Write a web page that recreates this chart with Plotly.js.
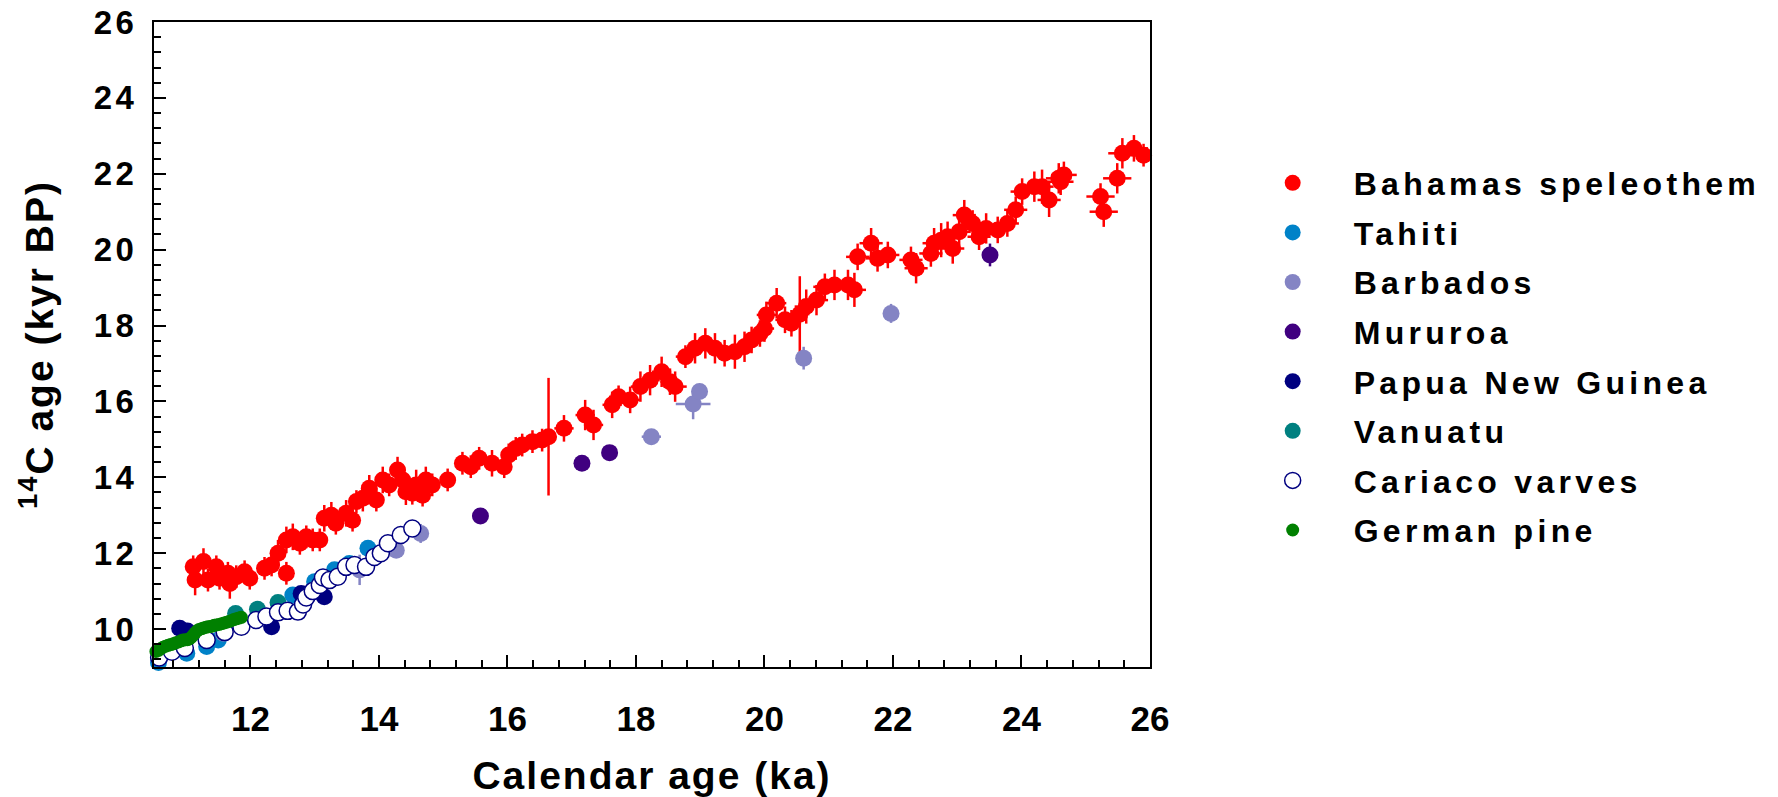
<!DOCTYPE html>
<html>
<head>
<meta charset="utf-8">
<script src="https://cdn.plot.ly/plotly-3.0.1.min.js"></script>
<style>
  html, body { margin: 0; padding: 0; background: #fff; }
  #chart { width: 1778px; height: 797px; }
  .legendtext { letter-spacing: 4.3px; }
  g.ytick text, text.ytick { letter-spacing: 3.5px; }
  .xtitle, .ytitle { letter-spacing: 2px; }
</style>
</head>
<body>
<div id="chart"></div>
<script>
// ---------------- DATA ----------------
// Bahamas speleothem: calendar age (ka), 14C age (kyr BP), errors
const bahamasX = [11.11,11.14,11.27,11.34,11.47,11.52,11.65,11.68,11.78,11.91,11.99,12.22,12.33,12.43,12.56,12.56,12.66,12.77,12.87,12.97,13.08,13.15,13.26,13.33,13.49,13.59,13.65,13.75,13.85,13.96,14.06,14.16,14.29,14.37,14.42,14.52,14.58,14.68,14.73,14.83,15.07,15.30,15.43,15.56,15.76,15.95,16.02,16.13,16.23,16.39,16.54,16.64,16.88,17.21,17.34,17.63,17.73,17.91,18.07,18.22,18.40,18.53,18.61,18.77,18.92,19.08,19.23,19.38,19.54,19.69,19.80,19.93,20.00,20.03,20.19,20.32,20.42,20.55,20.65,20.81,20.94,21.09,21.30,21.40,21.45,21.66,21.76,21.92,22.28,22.36,22.59,22.64,22.75,22.85,22.93,23.03,23.11,23.24,23.34,23.45,23.63,23.78,23.91,24.01,24.20,24.32,24.43,24.58,24.61,24.66,25.23,25.28,25.49,25.57,25.75,25.90];
const bahamasY = [11.64,11.29,11.78,11.29,11.64,11.34,11.47,11.20,11.38,11.51,11.34,11.60,11.69,12.00,11.47,12.35,12.43,12.26,12.43,12.35,12.35,12.92,13.00,12.79,13.05,12.87,13.36,13.45,13.71,13.40,13.93,13.80,14.19,13.93,13.62,13.58,13.80,13.53,13.93,13.80,13.93,14.37,14.28,14.50,14.37,14.28,14.59,14.76,14.85,14.94,14.98,15.07,15.29,15.64,15.38,15.91,16.12,16.04,16.39,16.56,16.78,16.52,16.39,17.18,17.40,17.53,17.40,17.27,17.31,17.44,17.62,17.79,17.92,18.28,18.59,18.15,18.06,18.30,18.50,18.67,19.02,19.07,19.07,18.94,19.81,20.17,19.77,19.86,19.73,19.51,19.90,20.17,20.25,20.34,20.03,20.47,20.91,20.69,20.34,20.56,20.52,20.69,21.05,21.53,21.66,21.66,21.31,21.88,21.79,21.97,21.40,21.00,21.88,22.54,22.67,22.49];
const bahamasErrY = [0.30,0.40,0.35,0.30,0.30,0.30,0.30,0.40,0.30,0.30,0.30,0.30,0.30,0.35,0.30,0.35,0.35,0.30,0.30,0.30,0.30,0.35,0.35,0.30,0.35,0.30,0.30,0.35,0.35,0.30,0.35,0.30,0.35,0.30,0.35,0.30,0.40,0.30,0.35,0.30,0.30,0.30,0.30,0.30,0.35,0.30,0.30,0.30,0.30,0.30,0.30,1.55,0.35,0.40,0.40,0.35,0.30,0.35,0.40,0.40,0.40,0.35,0.40,0.30,0.40,0.40,0.40,0.35,0.45,0.40,0.35,0.35,0.35,0.35,0.40,0.35,0.35,1.00,0.45,0.40,0.35,0.40,0.40,0.45,0.35,0.40,0.35,0.35,0.35,0.40,0.35,0.40,0.45,0.40,0.40,0.35,0.40,0.35,0.35,0.40,0.35,0.35,0.35,0.35,0.40,0.45,0.45,0.40,0.35,0.35,0.35,0.40,0.40,0.40,0.35,0.30];
const bahamasErrX = [0.10,0.10,0.10,0.10,0.10,0.10,0.10,0.10,0.10,0.10,0.10,0.10,0.10,0.10,0.10,0.10,0.10,0.10,0.10,0.10,0.10,0.10,0.10,0.10,0.10,0.10,0.10,0.10,0.10,0.10,0.12,0.12,0.12,0.12,0.12,0.12,0.12,0.12,0.12,0.12,0.12,0.12,0.12,0.12,0.12,0.12,0.12,0.12,0.12,0.12,0.12,0.12,0.15,0.15,0.15,0.15,0.15,0.15,0.15,0.15,0.15,0.15,0.18,0.15,0.15,0.15,0.15,0.15,0.15,0.15,0.15,0.15,0.15,0.15,0.15,0.15,0.15,0.15,0.18,0.18,0.18,0.18,0.18,0.18,0.18,0.18,0.18,0.18,0.18,0.18,0.18,0.18,0.18,0.18,0.18,0.18,0.18,0.18,0.18,0.18,0.18,0.18,0.18,0.18,0.18,0.18,0.18,0.20,0.20,0.20,0.22,0.22,0.22,0.22,0.22,0.22];

const tahitiX = [10.57,11.01,11.32,11.50,12.66,13.00,13.31,13.54,13.83];
const tahitiY = [9.12,9.36,9.54,9.71,10.90,11.25,11.56,11.73,12.13];

const barbadosX = [11.58,13.70,14.27,14.65,18.24,18.89,18.99,20.61,21.97];
const barbadosY = [9.89,11.56,12.08,12.52,15.07,15.93,16.26,17.14,18.32];
const barbadosErrX = [0.05,0.05,0.05,0.05,0.15,0.27,0.05,0.05,0.05];
const barbadosErrY = [0.15,0.40,0.20,0.25,0.20,0.40,0.20,0.30,0.25];

const mururoaX = [15.58,17.16,17.59,23.51];
const mururoaY = [12.98,14.37,14.65,19.86];
const mururoaErrY = [0.05,0.05,0.05,0.30];

const papuaX = [10.90,11.02,12.33,12.79,13.15];
const papuaY = [10.02,9.95,10.06,10.94,10.85];

const vanuatuX = [11.77,12.11,12.43];
const vanuatuY = [10.41,10.52,10.70];

const cariacoX = [10.58,10.78,10.98,11.32,11.60,11.86,12.09,12.25,12.43,12.58,12.74,12.82,12.87,12.97,13.08,13.13,13.23,13.36,13.49,13.62,13.80,13.93,14.03,14.14,14.34,14.52];
const cariacoY = [9.25,9.40,9.50,9.71,9.92,10.06,10.24,10.33,10.44,10.48,10.46,10.65,10.83,11.00,11.16,11.36,11.29,11.38,11.64,11.69,11.64,11.90,12.00,12.26,12.48,12.65];

const pineX = [10.49,10.53,10.57,10.61,10.64,10.68,10.72,10.76,10.80,10.84,10.88,10.92,10.95,10.99,11.02,11.05,11.08,11.11,11.14,11.17,11.20,11.24,11.27,11.31,11.34,11.38,11.41,11.44,11.47,11.51,11.55,11.59,11.63,11.67,11.70,11.74,11.78,11.82,11.86];
const pineY = [9.38,9.41,9.44,9.49,9.52,9.55,9.57,9.59,9.61,9.64,9.66,9.69,9.71,9.72,9.72,9.74,9.78,9.84,9.90,9.95,9.99,10.01,10.03,10.05,10.06,10.07,10.08,10.10,10.11,10.12,10.14,10.16,10.18,10.20,10.22,10.25,10.27,10.29,10.31];

const seriesNames = ['Bahamas speleothem','Tahiti','Barbados','Mururoa','Papua New Guinea','Vanuatu','Cariaco varves','German pine'];
const xTickVals = [12,14,16,18,20,22,24,26];
const yTickVals = [10,12,14,16,18,20,22,24,26];

// ---------------- STYLE ----------------
const FONT = 'Liberation Sans, Arial, Helvetica, sans-serif';
const MS = 17;

function pts(name, x, y, color, extra) {
  return Object.assign({
    type: 'scatter', mode: 'markers', name: name, x: x, y: y,
    legendgroup: name,
    marker: { color: color, size: MS, line: { width: 0 } },
    cliponaxis: false
  }, extra || {});
}

const traces = [
  pts(seriesNames[0], bahamasX, bahamasY, '#FF0000', {
    error_y: { type: 'data', array: bahamasErrY, visible: true, color: '#FF0000', thickness: 2.5, width: 0 },
    error_x: { type: 'data', array: bahamasErrX, visible: true, color: '#FF0000', thickness: 2.5, width: 0 }
  }),
  pts(seriesNames[1], tahitiX, tahitiY, '#0082C8'),
  pts(seriesNames[2], barbadosX, barbadosY, '#8484C4', {
    error_y: { type: 'data', array: barbadosErrY, visible: true, color: '#8484C4', thickness: 2.5, width: 0 },
    error_x: { type: 'data', array: barbadosErrX, visible: true, color: '#8484C4', thickness: 2.5, width: 0 }
  }),
  pts(seriesNames[3], mururoaX, mururoaY, '#400080', {
    error_y: { type: 'data', array: mururoaErrY, visible: true, color: '#400080', thickness: 2.5, width: 0 }
  }),
  pts(seriesNames[4], papuaX, papuaY, '#000080'),
  pts(seriesNames[5], vanuatuX, vanuatuY, '#008080'),
  pts(seriesNames[6], cariacoX, cariacoY, '#FFFFFF', {
    marker: { color: '#FFFFFF', size: MS, line: { width: 1.5, color: '#000080' } }
  }),
  pts(seriesNames[7], pineX, pineY, '#008000', {
    marker: { color: '#008000', size: 13, line: { width: 0 } }
  })
];

const axisCommon = {
  showgrid: false, zeroline: false,
  showline: true, linecolor: '#000', linewidth: 2, mirror: true,
  ticks: 'inside', ticklen: 12, tickwidth: 2, tickcolor: '#000',
  minor: { ticks: 'inside', ticklen: 7, tickwidth: 2, tickcolor: '#000', dtick: 0.4, tick0: 0, showgrid: false }
};

const layout = {
  width: 1778, height: 797, autosize: false,
  margin: { l: 154, r: 625, t: 22, b: 130, pad: 0 },
  paper_bgcolor: '#fff', plot_bgcolor: '#fff',
  showlegend: true,
  legend: {
    x: 1.082, xanchor: 'left', y: 0.793, yanchor: 'top',
    font: { family: FONT, size: 32, color: '#000', weight: 'bold' },
    itemwidth: 112, tracegroupgap: 5, traceorder: 'grouped',
    bgcolor: 'rgba(0,0,0,0)', borderwidth: 0, itemsizing: 'trace'
  },
  xaxis: Object.assign({}, axisCommon, {
    range: [10.5, 26], tickmode: 'array', tickvals: xTickVals, ticktext: xTickVals.map(String),
    ticklabelstandoff: 20,
    tickfont: { family: FONT, size: 35, color: '#000', weight: 'bold' },
    title: { text: 'Calendar age (ka)', standoff: 28, font: { family: FONT, size: 39, color: '#000', weight: 'bold' } }
  }),
  yaxis: Object.assign({}, axisCommon, {
    range: [9, 26], tickmode: 'array', tickvals: yTickVals, ticktext: yTickVals.map(String),
    ticklabelstandoff: 8,
    tickfont: { family: FONT, size: 33, color: '#000', weight: 'bold' },
    title: { text: '<sup>14</sup>C age (kyr BP)', standoff: 28, font: { family: FONT, size: 39, color: '#000', weight: 'bold' } }
  })
};

Plotly.newPlot('chart', traces, layout, { displayModeBar: false, staticPlot: true });
</script>
</body>
</html>
